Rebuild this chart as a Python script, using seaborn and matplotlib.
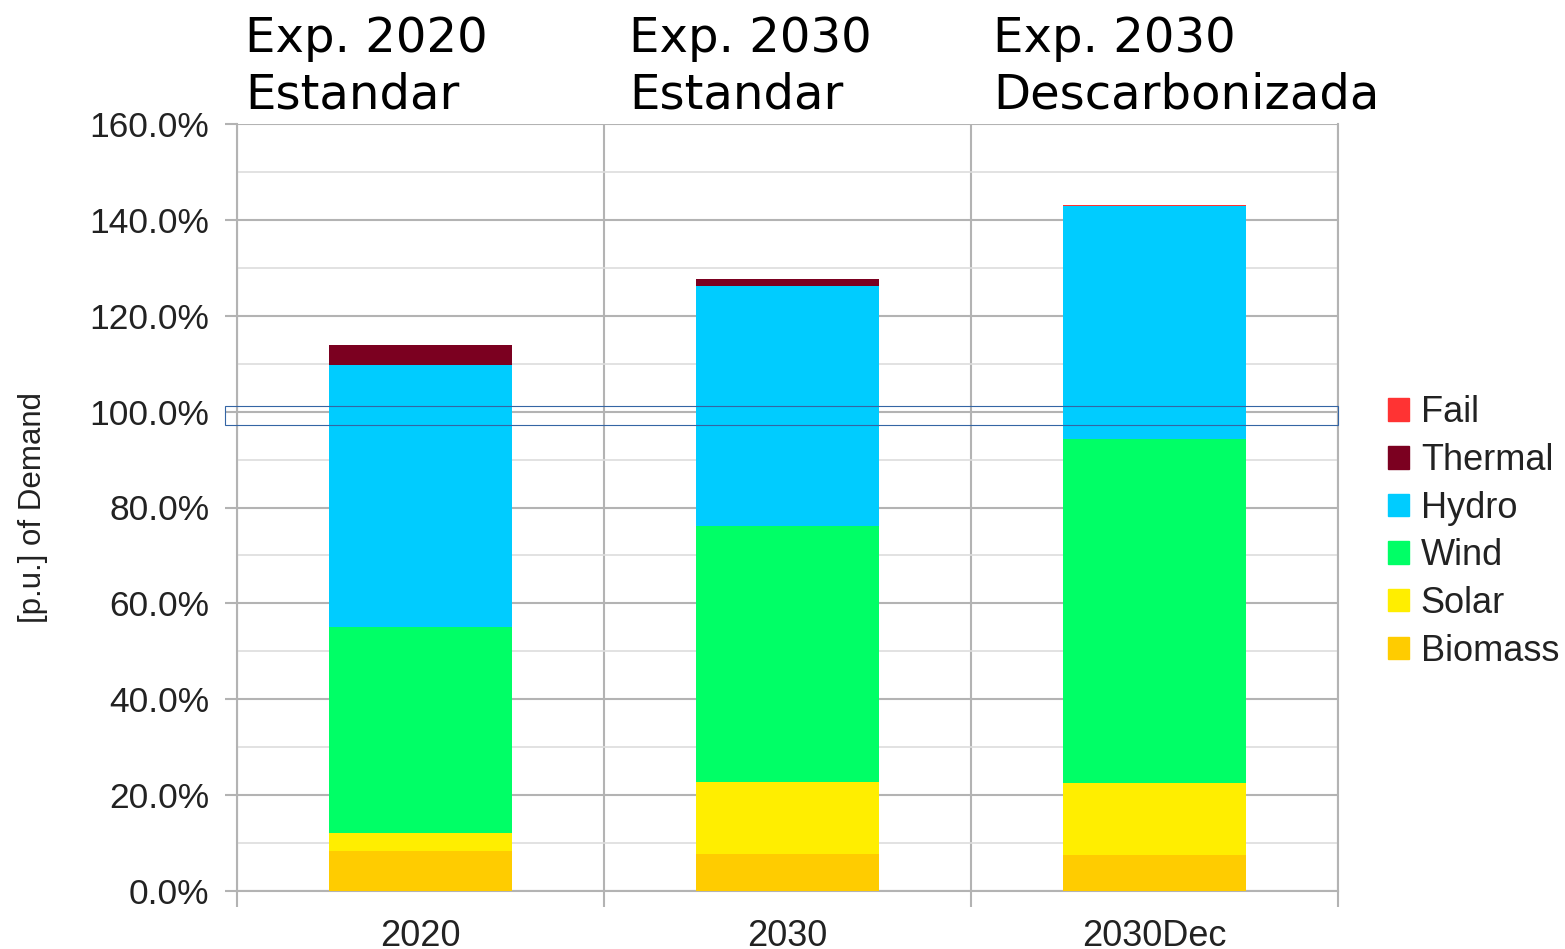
import matplotlib
matplotlib.use("Agg")
import matplotlib.pyplot as plt
import matplotlib.patches as mpatches
from matplotlib.ticker import FuncFormatter, MultipleLocator, FixedLocator
import seaborn as sns
import pandas as pd
import numpy as np

categories = ["2020", "2030", "2030Dec"]
titles = ["Exp. 2020\nEstandar", "Exp. 2030\nEstandar", "Exp. 2030\nDescarbonizada"]
series = ["Biomass", "Solar", "Wind", "Hydro", "Thermal", "Fail"]
biomass = [8.4, 7.7, 7.5]
solar = [3.7, 15.0, 15.1]
wind = [43.0, 53.4, 71.7]
hydro = [54.6, 50.2, 48.5]
thermal = [4.3, 1.3, 0.0]
fail = [0.0, 0.0, 0.4]
colors = {"Biomass": "#ffcc00", "Solar": "#ffee00", "Wind": "#00ff66",
          "Hydro": "#00ccff", "Thermal": "#7b0020", "Fail": "#ff3333"}

values = {"Biomass": biomass, "Solar": solar, "Wind": wind,
          "Hydro": hydro, "Thermal": thermal, "Fail": fail}

sns.set_theme(style="white")
plt.rcParams['font.family'] = ['Liberation Sans', 'DejaVu Sans']

fig = plt.figure(figsize=(15.65, 9.49), dpi=100)
ax = fig.add_axes([237/1565, 58/949, (1338-237)/1565, (891-124)/949])

# cumulative stacking
cum = np.zeros(len(categories))
cums = {}
for s in series:
    cum = cum + np.array(values[s])
    cums[s] = cum.copy()

rows = []
for s in series:
    for c, v in zip(categories, cums[s]):
        rows.append({"cat": c, "series": s, "cum": v})
df = pd.DataFrame(rows)

for s in reversed(series):
    sub = df[df["series"] == s]
    sns.barplot(data=sub, x="cat", y="cum", color=colors[s], width=0.5,
                ax=ax, order=categories, zorder=3, saturation=1, linewidth=0)

ax.set_xlim(-0.5, 2.5)
ax.set_ylim(0, 160)
ax.yaxis.set_major_locator(MultipleLocator(20))
ax.yaxis.set_minor_locator(MultipleLocator(10))
ax.yaxis.set_major_formatter(FuncFormatter(lambda v, p: f"{v:.1f}%"))
ax.xaxis.set_major_locator(FixedLocator([0, 1, 2]))
ax.set_xticklabels(categories)
ax.xaxis.set_minor_locator(FixedLocator([-0.5, 0.5, 1.5, 2.5]))

ax.grid(which="major", axis="y", color="#b3b3b3", linewidth=1.5, zorder=0)
ax.grid(which="minor", axis="y", color="#dddddd", linewidth=1.2, zorder=0)
ax.grid(which="minor", axis="x", color="#b3b3b3", linewidth=1.5, zorder=0)
ax.set_axisbelow(True)

for side in ["left", "bottom", "right", "top"]:
    ax.spines[side].set_color("#b3b3b3")
    ax.spines[side].set_linewidth(1.5)
ax.spines["right"].set_visible(True)
ax.spines["top"].set_visible(False)

ax.tick_params(axis="y", which="major", length=9, width=1.5, color="#b3b3b3",
               pad=11, labelsize=25.5, labelcolor="#222222", left=True)
ax.tick_params(axis="y", which="minor", length=0)
ax.tick_params(axis="x", which="major", length=0, pad=20, labelsize=26,
               labelcolor="#222222")
ax.tick_params(axis="x", which="minor", length=11.5, width=1.5, color="#b3b3b3",
               bottom=True)

ax.set_xlabel("")
ax.set_ylabel("[p.u.] of Demand", fontsize=22.5, color="#222222", labelpad=30)

# selection rectangle around 100% line
rect = mpatches.Rectangle((-0.5 - 12/367, 97.2), 3 + 12/367, 4.0, fill=False,
                          edgecolor="#3465a4", linewidth=0.8, zorder=6,
                          clip_on=False, transform=ax.transData)
ax.add_patch(rect)

# titles
for i, t in enumerate(titles):
    x_fig = [245, 629, 993][i] / 1565
    fig.text(x_fig, 1 - 15/949, t, ha="left", va="top", fontsize=34.7,
             family="DejaVu Sans", color="black", linespacing=1.27)

handles = [mpatches.Patch(color=colors[s], label=s) for s in reversed(series)]
leg = fig.legend(handles=handles, loc="center left",
                 bbox_to_anchor=(1388/1565, 1 - 532/949), frameon=False,
                 fontsize=26, handlelength=0.58, handleheight=0.58,
                 handletextpad=0.33, labelspacing=0.35, borderpad=0,
                 borderaxespad=0)
for txt in leg.get_texts():
    txt.set_color("#222222")

fig.savefig("out.png", dpi=100)
